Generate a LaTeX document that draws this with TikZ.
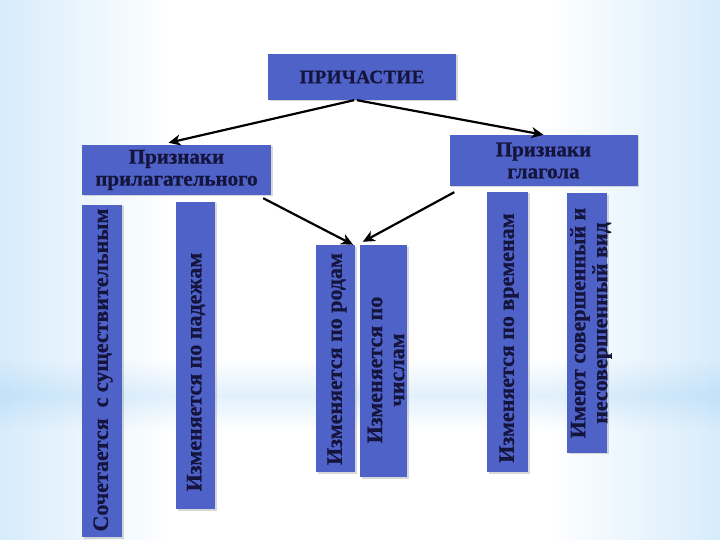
\documentclass[tikz,border=0pt]{standalone}
\usepackage{fontspec}
\setmainfont{Liberation Serif}[BoldFeatures={FakeBold=0.6}]
\newfontfamily\spaced{Liberation Serif}[LetterSpace=2, BoldFeatures={FakeBold=0.6}]
\usetikzlibrary{arrows.meta}
\usetikzlibrary{shadows}
\usetikzlibrary{fadings}

\definecolor{boxblue}{RGB}{79,98,200}
\definecolor{inkblue}{RGB}{20,20,60}
\definecolor{skyblue}{RGB}{124,190,241}
\definecolor{midblue}{RGB}{166,212,246}
\definecolor{paleblue}{RGB}{222,239,252}
\pgfdeclarehorizontalshading{sides}{100bp}{color(0bp)=(skyblue); color(14bp)=(midblue);
  color(27bp)=(paleblue); color(37bp)=(white); color(63bp)=(white); color(73bp)=(paleblue);
  color(86bp)=(midblue); color(100bp)=(skyblue)}
\tikzfading[name=bandfade, top color=transparent!100, bottom color=transparent!100,
  middle color=transparent!78]

\tikzset{
  box/.style={fill=boxblue, inner sep=0pt,
    drop shadow={opacity=0.3, shadow xshift=1.5pt, shadow yshift=-1.5pt}},
  hbox/.style={box, text=inkblue, align=center,
    font=\bfseries\fontsize{21}{22}\selectfont},
  vbox/.style={box, rotate=90},
  vtext/.style={rotate=90, inner sep=0pt, text=inkblue, align=center,
    font=\bfseries\fontsize{22}{22}\selectfont},
  link/.style={-{Stealth[length=12pt, width=11pt, inset=3.5pt]}, line width=2.2pt},
}

\begin{document}
\begin{tikzpicture}[x=1pt, y=-1pt]

% background
\useasboundingbox (0,0) rectangle (720,540);
\shade[shading=sides] (0,0) rectangle (720,540);
\fill[skyblue, path fading=bandfade] (0,360) rectangle (720,430);

% top levels
\node[hbox, minimum width=188, minimum height=46,
  font=\spaced\bfseries\fontsize{19}{20}\selectfont] (prich) at (362,77) {ПРИЧАСТИЕ};
\node[hbox, minimum width=189, minimum height=50] (adj) at (176.5,170) {Признаки\\прилагательного};
\node[hbox, minimum width=188, minimum height=51] (verb) at (543.5,160.5) {Признаки\\глагола};

% vertical boxes
\node[vbox, minimum width=332, minimum height=40] (sush) at (102,371) {};
\node[vtext] (sush-t) at (103,370) {Сочетается \ с существительным};

\node[vbox, minimum width=307, minimum height=39] (pad) at (195.5,355.5) {};
\node[vtext] (pad-t) at (196,372) {Изменяется по падежам};

\node[vbox, minimum width=227, minimum height=39] (rod) at (335.5,358.5) {};
\node[vtext] (rod-t) at (337,359) {Изменяется по родам};

\node[vbox, minimum width=232, minimum height=47] (chisl) at (383.5,361) {};
\node[vtext] (chisl-t) at (386,370) {Изменяется по\\числам};

\node[vbox, minimum width=280, minimum height=41] (vrem) at (507.5,332) {};
\node[vtext] (vrem-t) at (509,338) {Изменяется по временам};

\node[vbox, minimum width=259, minimum height=40] (vid) at (587,323) {};
\node[vtext] (vid-t) at (591,323) {Имеют совершенный и\\несовершенный вид};

% arrows
\draw[link] ([xshift=-8pt]prich.south) -- ([xshift=-8pt, yshift=2pt]adj.north);
\draw[link] ([xshift=-5pt]prich.south) -- (verb.north);
\draw[link] ([xshift=-8pt, yshift=-3pt]adj.south east) -- ([xshift=-2pt]rod.south east);
\draw[link] ([xshift=5pt, yshift=-6pt]verb.south west) -- ([xshift=3pt, yshift=3pt]chisl.north east);

\end{tikzpicture}
\end{document}
